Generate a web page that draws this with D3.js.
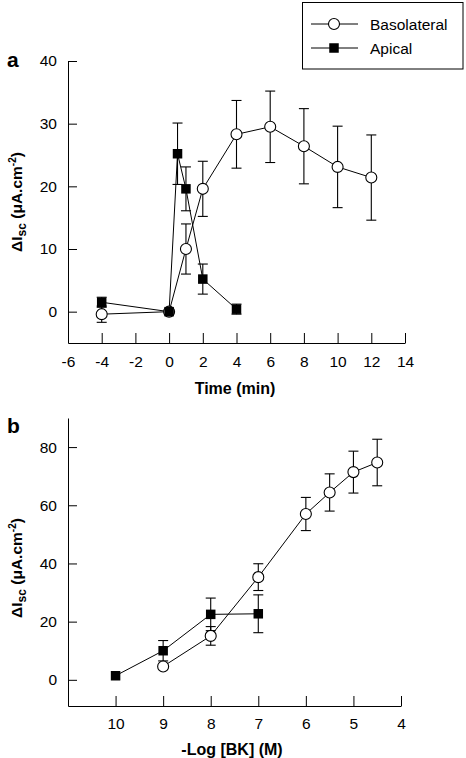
<!DOCTYPE html>
<html><head><meta charset="utf-8">
<script src="https://cdn.jsdelivr.net/npm/d3@7"></script>
<style>
body{margin:0;background:#fff;}
svg{display:block;font-family:Arial,"Liberation Sans",Helvetica,sans-serif;}
</style></head>
<body>
<script>
// Panel a: time course
const timeBaso = [-4, 0, 1, 2, 4, 6, 8, 10, 12];
const valBasoA = [-0.4, 0, 10.0, 19.6, 28.3, 29.5, 26.4, 23.1, 21.4];
const errBasoA = [1.3, 0, 4.0, 4.4, 5.4, 5.7, 6.0, 6.5, 6.8];
const timeApical = [-4, 0, 0.5, 1, 2, 4];
const valApicalA = [1.5, 0, 25.2, 19.6, 5.2, 0.4];
const errApicalA = [0.8, 0, 4.9, 3.5, 2.4, 0.8];
const xTicksA = [-6, -4, -2, 0, 2, 4, 6, 8, 10, 12, 14];
const yTicksA = [0, 10, 20, 30, 40];

// Panel b: dose response
const doseBaso = [9, 8, 7, 6, 5.5, 5, 4.5];
const valBasoB = [4.6, 15.1, 35.3, 57.0, 64.4, 71.4, 74.7];
const errBasoB = [0, 3.2, 4.6, 5.7, 6.4, 7.2, 8.0];
const doseApical = [10, 9, 8, 7];
const valApicalB = [1.4, 10.0, 22.5, 22.7];
const errApicalB = [0, 3.5, 5.6, 6.5];
const xTicksB = [10, 9, 8, 7, 6, 5, 4];
const yTicksB = [0, 20, 40, 60, 80];

const W = 466, H = 758;
const svg = d3.select("body").append("svg").attr("width", W).attr("height", H);
const FONT = 15.5;
const fmt = d => String(d);

function panel(opts) {
  const g = svg.append("g");
  const x = d3.scaleLinear().domain(opts.xDomain).range([68, opts.xRight]);
  const y = d3.scaleLinear().domain(opts.yDomain).range([opts.yBottom, opts.yTop]);

  const ax = g.append("g").attr("transform", `translate(0,${opts.yBottom})`)
    .call(d3.axisBottom(x).tickValues(opts.xTicks).tickSizeInner(-10).tickSizeOuter(0).tickPadding(opts.xPad).tickFormat(fmt));
  const ay = g.append("g").attr("transform", `translate(68,0)`)
    .call(d3.axisLeft(y).tickValues(opts.yTicks).tickSizeInner(-9).tickSizeOuter(0).tickPadding(11).tickFormat(fmt));
  [ax, ay].forEach(a => {
    a.selectAll("text").attr("font-size", FONT).attr("fill", "#000").attr("font-family", "Arial, 'Liberation Sans', sans-serif");
    a.selectAll("line,path").attr("stroke", "#000").attr("stroke-width", 1);
  });

  // x title
  g.append("text").attr("x", opts.xTitleX).attr("y", opts.xTitleY).attr("text-anchor", "middle")
    .attr("font-size", 16).attr("font-weight", "bold").text(opts.xTitle);
  // y title
  const yt = g.append("text").attr("transform", `translate(22,${opts.yTitleY}) rotate(-90)`)
    .attr("text-anchor", "middle").attr("font-size", 15.5).attr("font-weight", "bold");
  yt.append("tspan").text("\u0394I");
  yt.append("tspan").attr("font-size", 12).attr("dy", 4).text("sc");
  yt.append("tspan").attr("dy", -4).text(" (\u03bcA.cm");
  yt.append("tspan").attr("font-size", 10).attr("dy", -6).text("-2");
  yt.append("tspan").attr("dy", 6).text(")");
  // panel letter
  g.append("text").attr("x", 7).attr("y", opts.letterY).attr("font-size", 21).attr("font-weight", "bold").text(opts.letter);

  const cap = 5;
  function series(xs, vs, es) {
    const data = xs.map((d, i) => ({x: d, v: vs[i], e: es[i]}));
    const eb = g.append("g").attr("stroke", "#000").attr("stroke-width", 1.1);
    data.filter(d => d.e > 0).forEach(d => {
      const px = x(d.x);
      eb.append("line").attr("x1", px).attr("x2", px).attr("y1", y(d.v - d.e)).attr("y2", y(d.v + d.e));
      eb.append("line").attr("x1", px - cap).attr("x2", px + cap).attr("y1", y(d.v + d.e)).attr("y2", y(d.v + d.e));
      eb.append("line").attr("x1", px - cap).attr("x2", px + cap).attr("y1", y(d.v - d.e)).attr("y2", y(d.v - d.e));
    });
    g.append("path").datum(data).attr("fill", "none").attr("stroke", "#000").attr("stroke-width", 1)
      .attr("d", d3.line().x(d => x(d.x)).y(d => y(d.v)));
    return data;
  }
  function markers(data, kind) {
    if (kind === "circle") {
      g.selectAll(null).data(data).enter().append("circle")
        .attr("cx", d => x(d.x)).attr("cy", d => y(d.v)).attr("r", 5.5)
        .attr("fill", "#fff").attr("stroke", "#000").attr("stroke-width", 1.1);
    } else {
      g.selectAll(null).data(data).enter().append("rect")
        .attr("x", d => x(d.x) - 4.75).attr("y", d => y(d.v) - 4.75).attr("width", 9.5).attr("height", 9.5)
        .attr("fill", "#000");
    }
  }
  const d1 = series(opts.bx, opts.bv, opts.be);
  const d2 = series(opts.ax, opts.av, opts.ae);
  markers(d1, "circle");
  markers(d2, "square");
}

panel({
  xDomain: [-6, 14], xRight: 405, yDomain: [-5, 40], yBottom: 343, yTop: 61,
  xTicks: xTicksA, yTicks: yTicksA, xPad: 12.5,
  xTitle: "Time (min)", xTitleX: 235, xTitleY: 394, yTitleY: 202,
  letter: "a", letterY: 67,
  bx: timeBaso, bv: valBasoA, be: errBasoA,
  ax: timeApical, av: valApicalA, ae: errApicalA
});
panel({
  xDomain: [11, 4], xRight: 401, yDomain: [-9, 90], yBottom: 706, yTop: 418,
  xTicks: xTicksB, yTicks: yTicksB, xPad: 11.5,
  xTitle: "-Log [BK] (M)", xTitleX: 232, xTitleY: 755, yTitleY: 568,
  letter: "b", letterY: 433,
  bx: doseBaso, bv: valBasoB, be: errBasoB,
  ax: doseApical, av: valApicalB, ae: errApicalB
});

// legend
const lg = svg.append("g");
lg.append("rect").attr("x", 302.5).attr("y", 2.5).attr("width", 160.5).attr("height", 66.5)
  .attr("fill", "#fff").attr("stroke", "#000").attr("stroke-width", 1);
const legendItems = ["Basolateral", "Apical"];
legendItems.forEach((name, i) => {
  const yy = 24 + i * 24;
  lg.append("line").attr("x1", 311).attr("x2", 358).attr("y1", yy).attr("y2", yy).attr("stroke", "#000").attr("stroke-width", 1);
  if (i === 0) lg.append("circle").attr("cx", 334).attr("cy", yy).attr("r", 5.5).attr("fill", "#fff").attr("stroke", "#000").attr("stroke-width", 1.1);
  else lg.append("rect").attr("x", 329.25).attr("y", yy - 4.75).attr("width", 9.5).attr("height", 9.5).attr("fill", "#000");
  lg.append("text").attr("x", 370).attr("y", yy + 5.5).attr("font-size", 15.5).text(name);
});
</script>
</body></html>
